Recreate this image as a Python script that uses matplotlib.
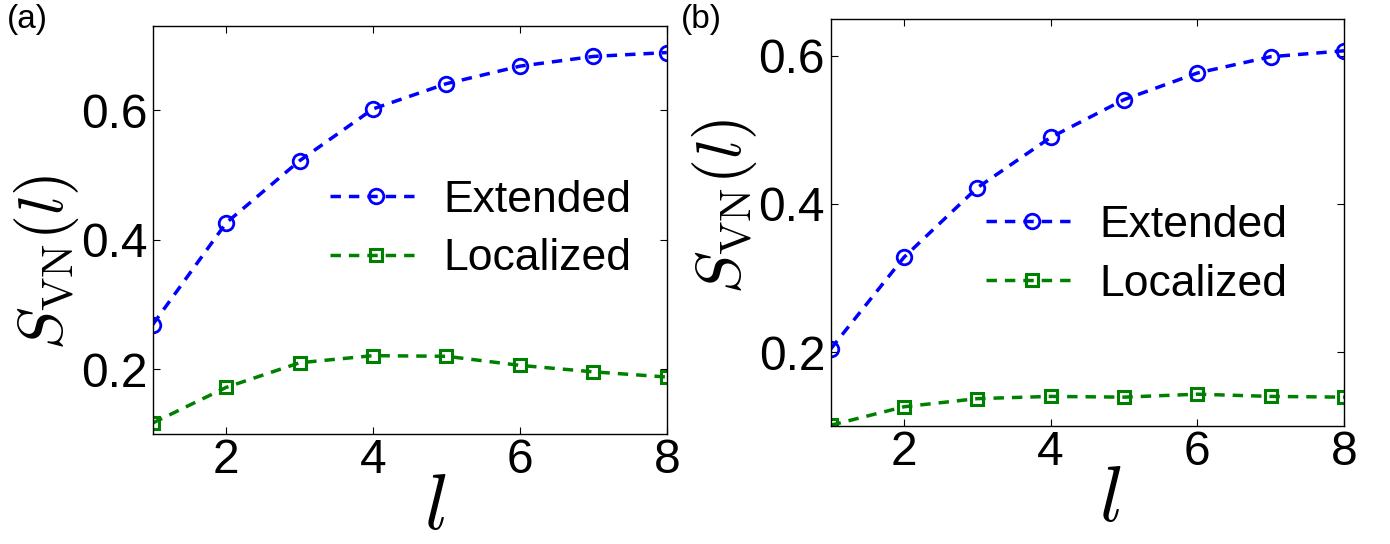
import matplotlib
matplotlib.use("Agg")
import matplotlib.pyplot as plt

plt.rcParams["font.family"] = ["Liberation Sans", "DejaVu Sans"]
plt.rcParams["mathtext.fontset"] = "cm"

l_vals = [1, 2, 3, 4, 5, 6, 7, 8]

# panel (a)
ext_a = [0.269, 0.426, 0.522, 0.602, 0.641, 0.668, 0.683, 0.689]
loc_a = [0.117, 0.172, 0.210, 0.221, 0.220, 0.206, 0.196, 0.188]

# panel (b)
ext_b = [0.204, 0.328, 0.422, 0.490, 0.541, 0.577, 0.599, 0.607]
loc_b = [0.101, 0.126, 0.137, 0.140, 0.139, 0.143, 0.140, 0.139]

x_ticks = [2, 4, 6, 8]
y_ticks = [0.2, 0.4, 0.6]

fig = plt.figure(figsize=(13.9, 5.44), dpi=100)

# tag, ext, loc, axes rect, ylim, legend anchor, ylabel y, xlabel x, tag x
panels = [
    ("(a)", ext_a, loc_a, [0.1099, 0.2022, 0.3698, 0.750], (0.10, 0.73),
     (0.345, 0.501), 0.42, 0.549, 0.005),
    ("(b)", ext_b, loc_b, [0.5976, 0.2169, 0.3693, 0.7482], (0.10, 0.65),
     (0.303, 0.421), 0.54, 0.545, 0.490),
]

for tag, ext, loc, rect, ylim, leg_pos, ylab_y, xlab_x, tag_x in panels:
    ax = fig.add_axes(rect)
    ax.plot(l_vals, ext, "--o", color="blue", lw=2.5, ms=10.5, mew=2,
            mfc="none", dashes=(3, 2.3), label="Extended")
    ax.plot(l_vals, loc, "--s", color="green", lw=2.5, ms=8.5, mew=2.2,
            mfc="none", dashes=(3, 2.3), label="Localized")
    ax.set_xlim(1, 8)
    ax.set_ylim(*ylim)
    ax.set_xticks(x_ticks)
    ax.set_yticks(y_ticks)
    ax.set_yticklabels([str(t) for t in y_ticks])
    ax.tick_params(direction="in", length=5, width=0.8, labelsize=34.5,
                   top=True, right=True)
    ax.tick_params(axis="x", pad=3)
    ax.tick_params(axis="y", pad=4)
    for s in ax.spines.values():
        s.set_linewidth(1.0)
    ax.set_xlabel(r"$l$", fontsize=56, labelpad=-8)
    ax.xaxis.label.set_x(xlab_x)
    ax.set_ylabel(r"$S_{\rm VN}(l)$", fontsize=46, labelpad=0)
    ax.yaxis.label.set_y(ylab_y)
    ax.legend(loc="center left", bbox_to_anchor=leg_pos, frameon=False,
              fontsize=32, handlelength=2.05, numpoints=1,
              handletextpad=0.5, labelspacing=0.4, borderpad=0,
              borderaxespad=0)
    fig.text(tag_x, 0.993, tag, fontsize=24, va="top", ha="left")

fig.savefig("out.png", dpi=100)
